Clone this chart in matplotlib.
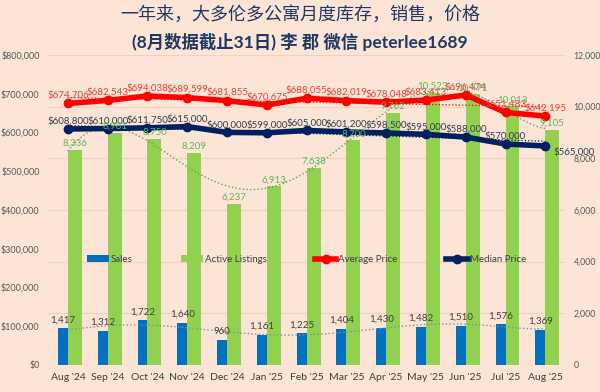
import matplotlib
matplotlib.use("Agg")
import matplotlib.pyplot as plt
import numpy as np

plt.rcParams['font.family'] = ['Lato', 'Noto Sans CJK SC', 'DejaVu Sans']

months = ["Aug '24", "Sep '24", "Oct '24", "Nov '24", "Dec '24", "Jan '25", "Feb '25",
          "Mar '25", "Apr '25", "May '25", "Jun '25", "Jul '25", "Aug '25"]
sales = [1417, 1312, 1722, 1640, 960, 1161, 1225, 1404, 1430, 1482, 1510, 1576, 1369]
listings = [8336, 8981, 8750, 8209, 6237, 6913, 7638, 8700, 9762, 10523, 10471, 10013, 9105]
avg_price = [674706, 682543, 694038, 689599, 681855, 670675, 688055, 682019, 678048,
             683413, 696474, 651483, 642195]
median_price = [608800, 610000, 611750, 615000, 600000, 599000, 605000, 601200, 598500,
                595000, 588000, 570000, 565000]

bg = '#FCE4D6'
c_sales = '#0070C0'
c_list = '#92D050'
c_avg = '#FF0000'
c_med = '#002060'

fig = plt.figure(figsize=(6, 3.92), dpi=100, facecolor=bg)
ax = fig.add_axes([0.08, 0.069, 0.862, 0.791], facecolor=bg)
ax2 = ax.twinx()
x = np.arange(len(months))

# bars (right scale)
b1 = ax.bar(x - 0.125, sales, width=0.25, color=c_sales, label='Sales', zorder=2)
b2 = ax.bar(x + 0.175, listings, width=0.35, color=c_list, label='Active Listings', zorder=2)
ax.set_ylim(0, 12000)
ax.set_xlim(-0.5, 12.5)
ax.set_yticks(range(0, 12001, 2000))
ax.set_yticklabels([f'{v:,}' for v in range(0, 12001, 2000)])
ax.grid(axis='y', color='#EFD3C2', linewidth=0.8, zorder=0)
ax.set_xticks(x)
ax.set_xticklabels(months)
ax.tick_params(axis='x', length=0, labelsize=7.5, colors='#404040', pad=6)
ax.tick_params(axis='y', length=0, labelsize=6.3, colors='#595959', pad=6)
for s in ax.spines.values():
    s.set_visible(False)
ax.axhline(0, color='#E0C8B8', linewidth=0.8)

# trendlines for bars
xf = np.linspace(0, 12, 200)
pl = np.polyfit(x, listings, 6)
ax.plot(xf, np.polyval(pl, xf), ':', color='#4CAF50', linewidth=1, zorder=3)
ps = np.polyfit(x, sales, 6)
ax.plot(xf, np.polyval(ps, xf), ':', color='#8090A0', linewidth=1, zorder=3)

for i, v in enumerate(sales):
    ax.text(x[i] - 0.125, v + 150, f'{v:,}', ha='center', va='bottom',
            fontsize=7, color='#404040', zorder=6)

# lines (left scale)
ax2.set_ylim(0, 800000)
ax2.set_yticks(range(0, 800001, 100000))
ax2.set_yticklabels([f'${v:,}' for v in range(0, 800001, 100000)])
ax2.tick_params(axis='y', length=0, labelsize=6.5, colors='#595959', pad=6)
for s in ax2.spines.values():
    s.set_visible(False)

# swap sides: counts on the right, prices on the left
ax.yaxis.tick_right()
ax2.yaxis.tick_left()

pa = np.polyfit(x, avg_price, 1)
ax2.plot(xf, np.polyval(pa, xf), ':', color=c_avg, linewidth=0.9, zorder=3)
pm = np.polyfit(x, median_price, 1)
ax2.plot(xf, np.polyval(pm, xf), ':', color=c_med, linewidth=0.9, zorder=3)

l1, = ax2.plot(x, avg_price, '-o', color=c_avg, linewidth=4, markersize=6, label='Average Price', zorder=4)
l2, = ax2.plot(x, median_price, '-o', color=c_med, linewidth=4, markersize=6, label='Median Price', zorder=4)

for i, v in enumerate(avg_price):
    ax2.text(x[i], v + 9000, f'${v:,}', ha='center', va='bottom', fontsize=7,
             color='#E04436', zorder=6)
for i, v in enumerate(median_price):
    if i == len(median_price) - 1:
        ax2.text(x[i] + 0.2, v - 4000, f'${v:,}', ha='left', va='top', fontsize=7,
                 color='#333F50', zorder=6)
    else:
        ax2.text(x[i], v + 8000, f'${v:,}', ha='center', va='bottom', fontsize=7,
                 color='#333F50', zorder=6)

# listing labels on top of everything
for i, v in enumerate(listings):
    ax2.text(x[i] + 0.175, v / 12000 * 800000 + 5000, f'{v:,}', ha='center', va='bottom',
             fontsize=7, color='#5DB85C', zorder=7)

leg = ax2.legend([b1, b2, l1, l2], ['Sales', 'Active Listings', 'Average Price', 'Median Price'],
                 loc='center', bbox_to_anchor=(0.5, 0.34), ncol=4, frameon=False,
                 fontsize=7, columnspacing=5, handlelength=2.2, handletextpad=0.2)
for t in leg.get_texts():
    t.set_color('#404040')

fig.text(0.5, 0.962, '一年来，大多伦多公寓月度库存，销售，价格', ha='center', va='center',
         fontsize=13, color='#1F3864', family=['Noto Sans CJK SC', 'DejaVu Sans'])
fig.text(0.5, 0.892, '(8月数据截止31日) 李 郡 微信 peterlee1689', ha='center', va='center',
         fontsize=12.5, color='#1F3864', fontweight='bold', family=['Lato', 'Noto Sans CJK SC', 'DejaVu Sans'])

fig.savefig('out.png', dpi=100, facecolor=bg)
